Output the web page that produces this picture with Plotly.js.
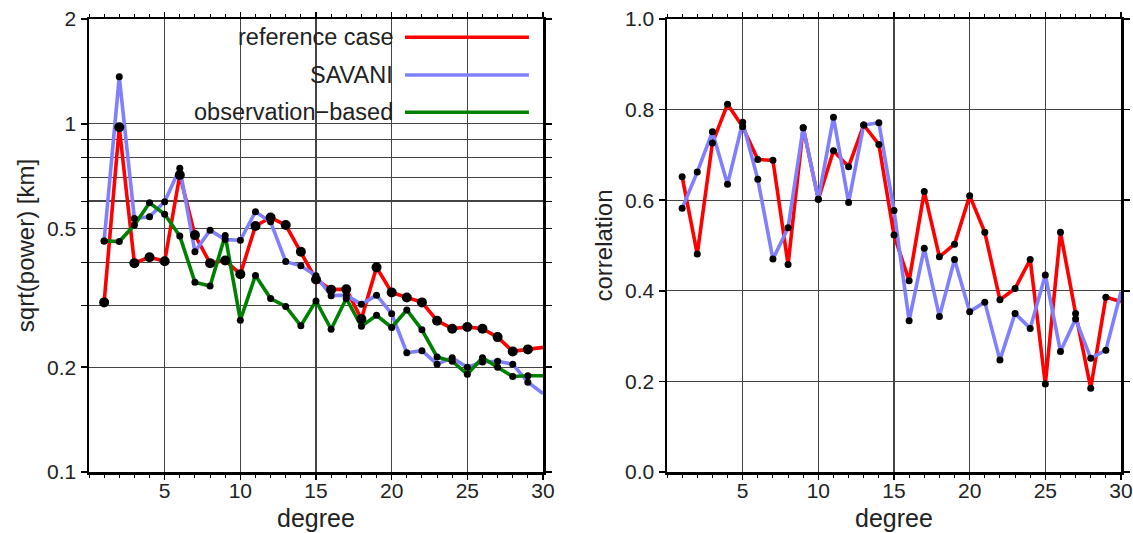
<!DOCTYPE html>
<html>
<head>
<meta charset="utf-8">
<script src="https://cdn.plot.ly/plotly-3.0.1.min.js"></script>
<style>
html,body{margin:0;padding:0;background:#fff;}
#chart{width:1133px;height:533px;}
</style>
</head>
<body>
<div id="chart"></div>
<script>
const degrees = [1,2,3,4,5,6,7,8,9,10,11,12,13,14,15,16,17,18,19,20,21,22,23,24,25,26,27,28,29,30];

const refPower = [0.307,0.977,0.398,0.414,0.403,0.713,0.479,0.398,0.405,0.370,0.509,0.538,0.512,0.429,0.357,0.334,0.335,0.275,0.387,0.328,0.317,0.307,0.272,0.258,0.261,0.258,0.244,0.222,0.225,0.228];
const savaniPower = [0.461,1.365,0.535,0.541,0.597,0.745,0.429,0.495,0.465,0.463,0.559,0.523,0.402,0.391,0.366,0.321,0.322,0.303,0.322,0.285,0.220,0.223,0.204,0.213,0.200,0.207,0.208,0.204,0.181,0.168];
const obsPower = [0.461,0.459,0.512,0.593,0.550,0.476,0.351,0.342,0.478,0.273,0.367,0.315,0.299,0.263,0.310,0.257,0.315,0.262,0.282,0.260,0.292,0.256,0.214,0.208,0.191,0.213,0.200,0.188,0.189,0.189];

const refCorr = [0.652,0.481,0.726,0.812,0.762,0.690,0.688,0.458,0.760,0.602,0.709,0.674,0.766,0.723,0.523,0.422,0.619,0.475,0.503,0.610,0.529,0.380,0.405,0.469,0.194,0.529,0.350,0.185,0.386,0.376];
const savaniCorr = [0.582,0.662,0.751,0.635,0.772,0.646,0.470,0.539,0.760,0.602,0.783,0.595,0.766,0.771,0.577,0.334,0.494,0.343,0.469,0.354,0.375,0.247,0.350,0.317,0.435,0.266,0.338,0.251,0.269,0.398];

const xTicks = [5,10,15,20,25,30];
const powerTicks = [0.1,0.2,0.5,1,2];
const powerTickText = ['0.1','0.2','0.5','1','2'];
const powerMinor = [0.3,0.4,0.6,0.7,0.8,0.9];
const corrTicks = [0,0.2,0.4,0.6,0.8,1.0];

const seriesNames = ['reference case','SAVANI','observation\u2212based'];
const colors = {ref:'#ff0000', sav:'#8080ff', obs:'#008000'};

const nMark = 29; // markers shown for degrees 1..29
function lineTrace(x, y, color, xa, ya){
  return {x:x, y:y, mode:'lines', line:{color:color, width:3.6}, xaxis:xa, yaxis:ya, showlegend:false, hoverinfo:'skip'};
}
function markTrace(x, y, size, xa, ya){
  return {x:x.slice(0,nMark), y:y.slice(0,nMark), mode:'markers', marker:{color:'#000', size:size}, xaxis:xa, yaxis:ya, showlegend:false, hoverinfo:'skip'};
}

const traces = [
  lineTrace(degrees, refPower, colors.ref, 'x', 'y'),
  lineTrace(degrees, savaniPower, colors.sav, 'x', 'y'),
  lineTrace(degrees, obsPower, colors.obs, 'x', 'y'),
  markTrace(degrees, refPower, 10, 'x', 'y'),
  markTrace(degrees, savaniPower, 7, 'x', 'y'),
  markTrace(degrees, obsPower, 7, 'x', 'y'),
  lineTrace(degrees, refCorr, colors.ref, 'x2', 'y2'),
  lineTrace(degrees, savaniCorr, colors.sav, 'x2', 'y2'),
  markTrace(degrees, refCorr, 7, 'x2', 'y2'),
  markTrace(degrees, savaniCorr, 7, 'x2', 'y2')
];

const font = {family:'"Liberation Sans", Arial, sans-serif', size:21, color:'#222'};
const gridColor = '#444444';
const tickFontSize = 21;
const titleFontSize = 25;

function xAxis(domain, anchor){
  return {
    domain: domain, anchor: anchor, range:[0,30],
    tickmode:'array', tickvals:xTicks, ticks:'outside', ticklen:5, tickwidth:1.5, tickcolor:'#000',
    ticklabelstandoff:-7,
    showgrid:true, gridcolor:gridColor, gridwidth:1.2, zeroline:false,
    showline:true, linecolor:'#000', linewidth:2.5, mirror:'allticks',
    minor:{dtick:1, tick0:0, ticks:'outside', ticklen:3, tickwidth:1, tickcolor:'#000', showgrid:false},
    tickfont:{size:tickFontSize, color:'#222'},
    title:{text:'degree', font:{size:titleFontSize, color:'#222'}, standoff:9}
  };
}

const layout = {
  width:1133, height:533,
  margin:{l:0, r:0, t:0, b:0},
  paper_bgcolor:'#fff', plot_bgcolor:'#fff',
  font: font,
  showlegend:false,
  xaxis: xAxis([89/1133, 543/1133], 'y'),
  xaxis2: xAxis([667/1133, 1121/1133], 'y2'),
  yaxis: {
    domain:[61/533, 514/533], anchor:'x', type:'log', range:[-1, Math.log10(2)],
    tickmode:'array', tickvals:powerTicks, ticktext:powerTickText,
    ticks:'outside', ticklen:6, tickwidth:1.5, tickcolor:'#000',
    showgrid:true, gridcolor:gridColor, gridwidth:1.2, zeroline:false,
    showline:true, linecolor:'#000', linewidth:2.5, mirror:'allticks',
    minor:{tickmode:'array', tickvals:powerMinor, ticks:'outside', ticklen:6, tickwidth:1, tickcolor:'#000', showgrid:true, gridcolor:gridColor, gridwidth:1.2},
    tickfont:{size:tickFontSize, color:'#222'},
    title:{text:'sqrt(power) [km]', font:{size:titleFontSize - 1, color:'#222'}, standoff:6}
  },
  yaxis2: {
    domain:[61/533, 514/533], anchor:'x2', range:[0,1],
    tickmode:'array', tickvals:corrTicks, tickformat:'.1f',
    ticks:'outside', ticklen:6, tickwidth:1.5, tickcolor:'#000',
    showgrid:true, gridcolor:gridColor, gridwidth:1.2, zeroline:false,
    showline:true, linecolor:'#000', linewidth:2.5, mirror:'allticks',
    tickfont:{size:tickFontSize, color:'#222'},
    title:{text:'correlation', font:{size:titleFontSize - 1, color:'#222'}, standoff:6}
  },
  shapes: [],
  annotations: []
};

const legendRows = [0.9596, 0.8764, 0.794];
const legendColors = [colors.ref, colors.sav, colors.obs];
seriesNames.forEach(function(name, i){
  layout.shapes.push({type:'line', xref:'x domain', yref:'y domain', x0:0.696, x1:0.969, y0:legendRows[i], y1:legendRows[i], line:{color:legendColors[i], width:3.6}});
  layout.annotations.push({xref:'x domain', yref:'y domain', x:0.674, y:legendRows[i], xanchor:'right', yanchor:'middle', showarrow:false, text:name, font:{size:23.5, color:'#222'}});
});

Plotly.newPlot('chart', traces, layout, {staticPlot:true, displayModeBar:false});
</script>
</body>
</html>
